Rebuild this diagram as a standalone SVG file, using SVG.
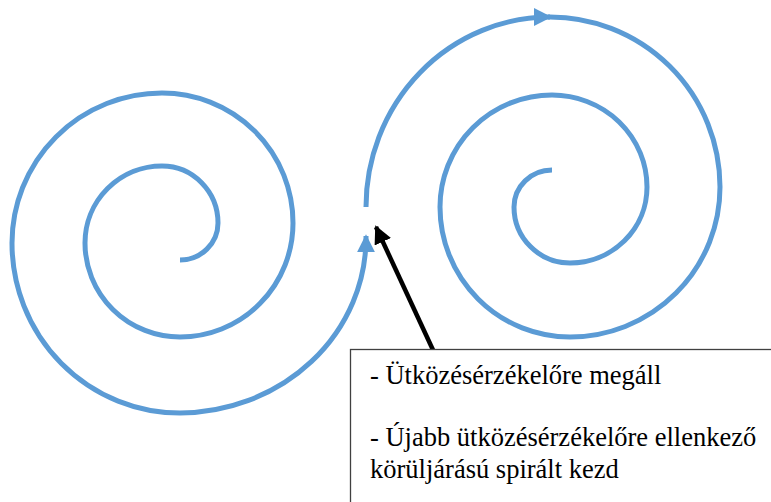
<svg xmlns="http://www.w3.org/2000/svg" width="771" height="502" viewBox="0 0 771 502">
<style>
.sp{fill:none;stroke:#5B9BD5;stroke-width:5}
.txt{font-family:"Liberation Serif","Times New Roman",serif;font-size:26.5px;fill:#000}
</style>
<defs>
<marker id="blueArrow" viewBox="0 0 10 10" refX="9" refY="5" markerWidth="3.6" markerHeight="3.6" orient="auto" markerUnits="strokeWidth">
<path d="M0,0 L10,5 L0,10 z" fill="#5B9BD5"/>
</marker>
<marker id="blackArrow" viewBox="0 0 10 10" refX="9" refY="5" markerWidth="4" markerHeight="4" orient="auto" markerUnits="strokeWidth">
<path d="M0,0 L10,5 L0,10 z" fill="#000"/>
</marker>
</defs>
<g id="spiral-left">
<path class="sp" marker-end="url(#blueArrow)" d="M180,260 A38,37 0 0 0 218,223 A56,57 0 0 0 162,166 A77,77 0 0 0 85,243 A95,94 0 0 0 180,337 A113,114 0 0 0 293,223 A131,130 0 0 0 162,93 A150,150 0 0 0 12,243 A168,170 0 0 0 180,413 A187,175 0 0 0 366,238 L366,236"/>
</g>
<g id="spiral-right">
<path class="sp" marker-end="url(#blueArrow)" d="M366,207 A184,190 0 0 1 550,17"/>
<path class="sp" d="M548,17 A170,170 0 0 1 720,187 A150,150 0 0 1 570,337 A130,130 0 0 1 440,207 A112,112 0 0 1 552,95 A95,92 0 0 1 647,187 A77,76 0 0 1 570,263 A56,56 0 0 1 514,207 A38,37 0 0 1 552,170"/>
</g>
<g id="connectors">
<line x1="433" y1="350" x2="376" y2="227" stroke="#000" stroke-width="4.5" marker-end="url(#blackArrow)"/>
</g>
<g id="note">
<rect x="350.5" y="349.5" width="425" height="160" fill="#fff" stroke="#404040" stroke-width="1.3"/>
<text class="txt" x="370" y="384">- Ütközésérzékelőre megáll</text>
<text class="txt" x="370" y="446">- Újabb ütközésérzékelőre ellenkező</text>
<text class="txt" x="370" y="478">körüljárású spirált kezd</text>
</g>
</svg>
